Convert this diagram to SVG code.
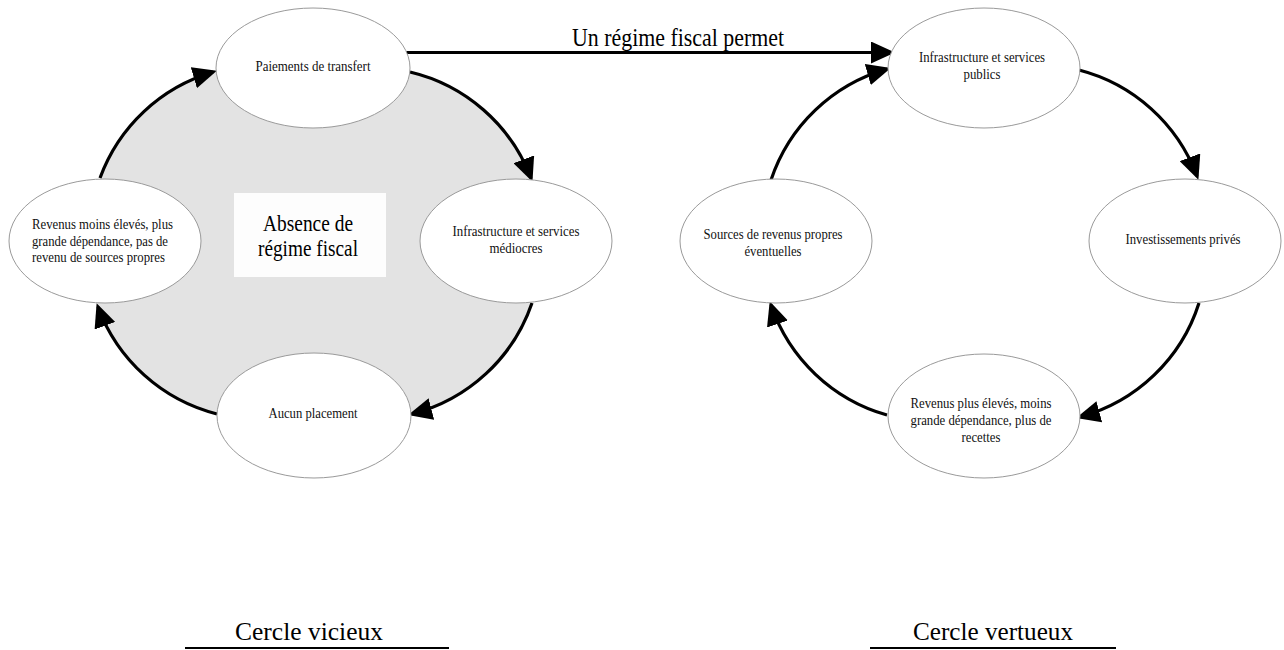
<svg xmlns="http://www.w3.org/2000/svg" width="1284" height="650" viewBox="0 0 1284 650">
<style>
.node ellipse{fill:#ffffff;stroke:#9a9a9a;stroke-width:1}
.t{font-family:'Liberation Serif','Times New Roman',serif;font-size:14px;fill:#111;text-anchor:middle}
.tl{font-family:'Liberation Serif','Times New Roman',serif;font-size:14px;fill:#111;text-anchor:start}
.big{font-family:'Liberation Serif','Times New Roman',serif;font-size:23px;fill:#000;text-anchor:middle}
.title{font-family:'Liberation Serif','Times New Roman',serif;font-size:26px;fill:#000;text-anchor:middle}
.conn path{fill:none;stroke:#000;stroke-width:3.2}
.rule{stroke:#000;stroke-width:2}
</style>
<defs>
<marker id="ah" viewBox="0 0 24 22" refX="20" refY="11" markerWidth="24" markerHeight="22" markerUnits="userSpaceOnUse" orient="auto">
<path d="M0,0 L24,11 L0,22 Z" fill="#000"/>
</marker>
</defs>
<rect width="1284" height="650" fill="#ffffff"/>

<path id="vicious-bg" d="M410,72 A172,172 0 0 1 532,182 L532,303 A172,172 0 0 1 408,415 L217,414 A172,172 0 0 1 97,303 L100,178 A172,172 0 0 1 217,71 Z" fill="#e3e3e3"/>

<g id="connectors" class="conn">
<path d="M410,72 A172,172 0 0 1 531,178" marker-end="url(#ah)"/>
<path d="M532,303 A172,172 0 0 1 412,414" marker-end="url(#ah)"/>
<path d="M217,414 A172,172 0 0 1 98,307" marker-end="url(#ah)"/>
<path d="M100,178 A172,172 0 0 1 213,72" marker-end="url(#ah)"/>
<path d="M406,52.5 H891" marker-end="url(#ah)"/>
<path d="M1079,70 A172,172 0 0 1 1197,176" marker-end="url(#ah)"/>
<path d="M1199,303 A172,172 0 0 1 1080,417" marker-end="url(#ah)"/>
<path d="M887,415 A172,172 0 0 1 771,305" marker-end="url(#ah)"/>
<path d="M771,180 A172,172 0 0 1 887,69" marker-end="url(#ah)"/>
</g>

<g id="label-regime">
<text class="title" x="678" y="46" style="font-size:25px" textLength="212" lengthAdjust="spacingAndGlyphs">Un régime fiscal permet</text>
</g>

<g id="absence">
<rect x="234" y="193" width="152" height="84" fill="#fdfdfd"/>
<text class="big" x="308" y="231" textLength="90" lengthAdjust="spacingAndGlyphs">Absence de</text>
<text class="big" x="308" y="256" textLength="100" lengthAdjust="spacingAndGlyphs">régime fiscal</text>
</g>

<g id="paiements" class="node">
<ellipse cx="313" cy="68" rx="97" ry="60"/>
<text class="t" x="313" y="71" textLength="115" lengthAdjust="spacingAndGlyphs">Paiements de transfert</text>
</g>
<g id="infra-mediocres" class="node">
<ellipse cx="516" cy="241" rx="96" ry="62"/>
<text class="t" x="516" y="236" textLength="127" lengthAdjust="spacingAndGlyphs">Infrastructure et services</text>
<text class="t" x="516" y="253" textLength="53" lengthAdjust="spacingAndGlyphs">médiocres</text>
</g>
<g id="aucun-placement" class="node">
<ellipse cx="314" cy="415.5" rx="97" ry="62.5"/>
<text class="t" x="313" y="418" textLength="89" lengthAdjust="spacingAndGlyphs">Aucun placement</text>
</g>
<g id="revenus-moins" class="node">
<ellipse cx="105" cy="241" rx="96" ry="62"/>
<text class="tl" x="32" y="229" textLength="141" lengthAdjust="spacingAndGlyphs">Revenus moins élevés, plus</text>
<text class="tl" x="32" y="246" textLength="136" lengthAdjust="spacingAndGlyphs">grande dépendance, pas de</text>
<text class="tl" x="32" y="262" textLength="133" lengthAdjust="spacingAndGlyphs">revenu de sources propres</text>
</g>

<g id="infra-publics" class="node">
<ellipse cx="984" cy="68" rx="96" ry="60"/>
<text class="t" x="982" y="62" textLength="126" lengthAdjust="spacingAndGlyphs">Infrastructure et services</text>
<text class="t" x="982" y="79" textLength="37" lengthAdjust="spacingAndGlyphs">publics</text>
</g>
<g id="investissements" class="node">
<ellipse cx="1185" cy="241" rx="96" ry="62"/>
<text class="t" x="1183" y="244" textLength="115" lengthAdjust="spacingAndGlyphs">Investissements privés</text>
</g>
<g id="revenus-plus" class="node">
<ellipse cx="984" cy="416" rx="96" ry="62"/>
<text class="t" x="981" y="408" textLength="141" lengthAdjust="spacingAndGlyphs">Revenus plus élevés, moins</text>
<text class="t" x="981" y="425" textLength="141" lengthAdjust="spacingAndGlyphs">grande dépendance, plus de</text>
<text class="t" x="981" y="442" textLength="39" lengthAdjust="spacingAndGlyphs">recettes</text>
</g>
<g id="sources" class="node">
<ellipse cx="776" cy="241" rx="96" ry="62"/>
<text class="t" x="773" y="239" textLength="139" lengthAdjust="spacingAndGlyphs">Sources de revenus propres</text>
<text class="t" x="773" y="256" textLength="57" lengthAdjust="spacingAndGlyphs">éventuelles</text>
</g>

<g id="caption-vicieux">
<text class="title" x="309" y="640" textLength="148" lengthAdjust="spacingAndGlyphs">Cercle vicieux</text>
<line class="rule" x1="185" y1="648" x2="449" y2="648"/>
</g>
<g id="caption-vertueux">
<text class="title" x="993" y="640" textLength="160" lengthAdjust="spacingAndGlyphs">Cercle vertueux</text>
<line class="rule" x1="870" y1="648" x2="1116" y2="648"/>
</g>
</svg>
